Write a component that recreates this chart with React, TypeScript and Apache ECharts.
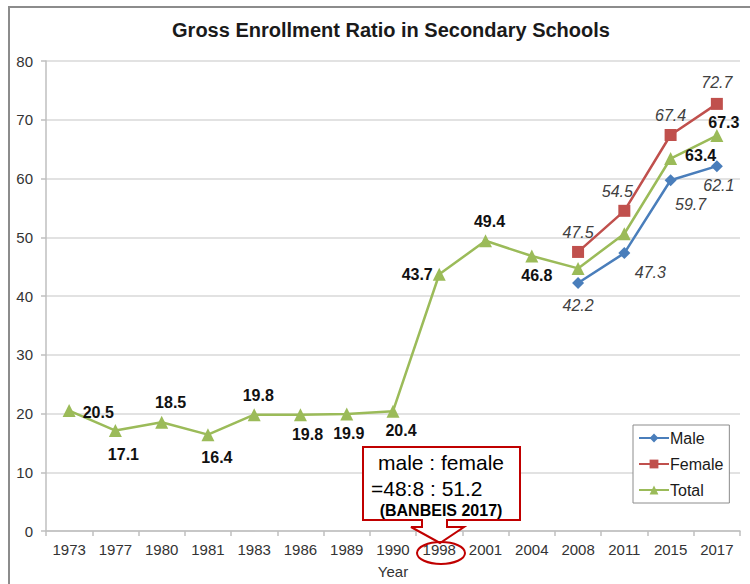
import React, { useEffect, useRef } from "react";
import * as echarts from "echarts";

const years = ["1973", "1977", "1980", "1981", "1983", "1986", "1989", "1990", "1998", "2001", "2004", "2008", "2011", "2015", "2017"];
const totalValues = [20.5, 17.1, 18.5, 16.4, 19.8, 19.8, 19.9, 20.4, 43.7, 49.4, 46.8, 44.7, 50.6, 63.4, 67.3];
const maleValues: (number | null)[] = [null, null, null, null, null, null, null, null, null, null, null, 42.2, 47.3, 59.7, 62.1];
const femaleValues: (number | null)[] = [null, null, null, null, null, null, null, null, null, null, null, 47.5, 54.5, 67.4, 72.7];
const yTicks = { min: 0, max: 80, interval: 10 };

// label placement (position, offset); null = no label
type LP = [string, number, number] | null;
const totalLabelPos: LP[] = [
  ["right", 2, 2], ["bottom", 8, 4], ["top", 9, 0], ["bottom", 9, 3], ["top", 4, 0],
  ["bottom", 7, 0], ["bottom", 2, 0], ["bottom", 8, 0], ["left", 5, 0], ["top", 4, 0],
  ["bottom", 5, 0], null, null, ["right", 3, -3], ["top", 7, 6],
];
const maleLabelPos: LP[] = [null, null, null, null, null, null, null, null, null, null, null,
  ["bottom", 0, 3], ["bottom", 26, 0], ["bottom", 20, 5], ["bottom", 2, 0]];
const femaleLabelPos: LP[] = [null, null, null, null, null, null, null, null, null, null, null,
  ["top", 0, 0], ["top", -7, 0], ["top", 0, -1], ["top", 0, -2]];

const RED = "#c00000";

function buildData(values: (number | null)[], pos: LP[]) {
  return values.map((v, i) => {
    const p = pos[i];
    if (v === null) return null;
    if (!p) return { value: v, label: { show: false } };
    return { value: v, label: { show: true, position: p[0], offset: [p[1], p[2]] } };
  });
}

export default function App() {
  const ref = useRef<HTMLDivElement>(null);
  useEffect(() => {
    if (!ref.current) return;
    const chart = echarts.init(ref.current, undefined, { renderer: "svg" });
    const font = "Liberation Sans, Arial, sans-serif";
    chart.setOption({
      animation: false,
      backgroundColor: "#ffffff",
      textStyle: { fontFamily: font },
      title: {
        text: "Gross Enrollment Ratio in Secondary Schools",
        left: 386,
        top: 15,
        textAlign: "center",
        textStyle: { fontSize: 20, fontWeight: "bold", color: "#1a1a1a", fontFamily: font },
      },
      grid: { left: 46, right: 10, top: 61, bottom: 49 },
      legend: {
        orient: "vertical",
        left: 633,
        top: 425,
        padding: [5, 6, 5, 5],
        itemGap: 10,
        itemWidth: 30,
        itemHeight: 11,
        borderColor: "#8c8c8c",
        borderWidth: 1,
        backgroundColor: "#fff",
        textStyle: { fontSize: 16, color: "#1a1a1a", fontFamily: font, padding: [0, 0, 0, -4] },
        data: ["Male", "Female", "Total"],
      },
      xAxis: {
        type: "category",
        data: years,
        boundaryGap: true,
        name: "Year",
        nameLocation: "middle",
        nameGap: 33,
        nameTextStyle: { fontSize: 15, color: "#333", fontFamily: font },
        axisLine: { show: true, lineStyle: { color: "#bfbfbf", width: 1.5 } },
        axisTick: { show: true, length: 5, alignWithLabel: false, lineStyle: { color: "#bfbfbf", width: 1.5 } },
        axisLabel: { fontSize: 15, color: "#333", margin: 11, interval: 0, fontFamily: font },
      },
      yAxis: {
        type: "value",
        min: yTicks.min,
        max: yTicks.max,
        interval: yTicks.interval,
        axisLine: { show: true, lineStyle: { color: "#bfbfbf", width: 1.5 } },
        axisTick: { show: true, length: 5, lineStyle: { color: "#bfbfbf", width: 1.5 } },
        axisLabel: { fontSize: 15, color: "#333", margin: 13, fontFamily: font },
        splitLine: { show: true, lineStyle: { color: "#d9d9d9", width: 1.5 } },
      },
      series: [
        {
          name: "Male",
          type: "line",
          data: buildData(maleValues, maleLabelPos),
          symbol: "diamond",
          symbolSize: 12,
          itemStyle: { color: "#4a7ebb" },
          lineStyle: { color: "#4a7ebb", width: 2.5 },
          label: { show: true, fontSize: 16, fontStyle: "italic", color: "#404040", fontFamily: font },
          z: 3,
        },
        {
          name: "Female",
          type: "line",
          data: buildData(femaleValues, femaleLabelPos),
          symbol: "rect",
          symbolSize: 12,
          itemStyle: { color: "#c0504d" },
          lineStyle: { color: "#c0504d", width: 2.5 },
          label: { show: true, fontSize: 16, fontStyle: "italic", color: "#404040", fontFamily: font },
          z: 3,
        },
        {
          name: "Total",
          type: "line",
          data: buildData(totalValues, totalLabelPos),
          symbol: "triangle",
          symbolSize: 13,
          itemStyle: { color: "#9bbb59" },
          lineStyle: { color: "#9bbb59", width: 2.5 },
          label: { show: true, fontSize: 16, fontWeight: "bold", color: "#111", fontFamily: font },
          z: 4,
        },
      ],
      graphic: [
        {
          type: "rect",
          shape: { x: 9, y: 7, width: 800, height: 700 },
          style: { fill: "none", stroke: "#8c8c8c", lineWidth: 2 },
          silent: true,
          z: 0,
        },
        {
          type: "polygon",
          shape: {
            points: [
              [363, 447], [520, 447], [520, 520], [447, 520], [447, 527], [464, 527],
              [440, 543], [411, 527], [422, 527], [422, 520], [363, 520],
            ],
          },
          style: { fill: "#ffffff", stroke: RED, lineWidth: 2 },
          z: 100,
        },
        {
          type: "text",
          x: 441,
          y: 462,
          style: { text: "male : female", fontSize: 21, fill: "#000", textAlign: "center", textVerticalAlign: "middle", fontFamily: font },
          z: 101,
        },
        {
          type: "text",
          x: 371,
          y: 488,
          style: { text: "=48:8 : 51.2", fontSize: 21, fill: "#000", textAlign: "left", textVerticalAlign: "middle", fontFamily: font },
          z: 101,
        },
        {
          type: "text",
          x: 441,
          y: 510,
          style: { text: "(BANBEIS 2017)", fontSize: 16, fontWeight: "bold", fill: "#000", textAlign: "center", textVerticalAlign: "middle", fontFamily: font },
          z: 101,
        },
        {
          type: "ellipse",
          shape: { cx: 441, cy: 553, rx: 24, ry: 11 },
          style: { fill: "none", stroke: RED, lineWidth: 2 },
          z: 101,
        },
      ],
    });
    return () => chart.dispose();
  }, []);
  return <div ref={ref} style={{ width: 750, height: 584, position: "absolute", left: 0, top: 0 }} />;
}
